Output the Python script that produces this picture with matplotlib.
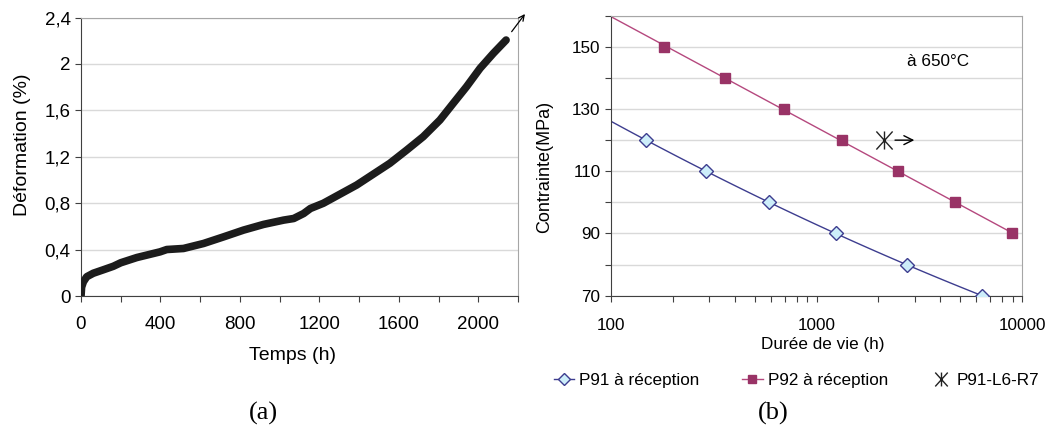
import matplotlib
matplotlib.use("Agg")
import matplotlib.pyplot as plt
import numpy as np
from matplotlib.path import Path
from matplotlib.ticker import MultipleLocator, FixedLocator, NullFormatter

plt.rcParams['font.family'] = ['Liberation Sans', 'DejaVu Sans']

# (a) courbe de fluage
temps_h = [0, 3, 12, 29, 62, 113, 163, 200, 281, 398, 432, 516, 617, 718, 818,
           919, 1020, 1071, 1121, 1155, 1220, 1388, 1555, 1640, 1723, 1807,
           1874, 1941, 2009, 2076, 2140]
deformation = [0.0, 0.08, 0.126, 0.17, 0.20, 0.23, 0.26, 0.29, 0.335, 0.384,
               0.404, 0.413, 0.456, 0.513, 0.571, 0.62, 0.657, 0.671, 0.714,
               0.757, 0.802, 0.959, 1.146, 1.260, 1.375, 1.518, 1.662, 1.805,
               1.963, 2.092, 2.206]
y_ticks_a = [0, 0.4, 0.8, 1.2, 1.6, 2.0, 2.4]
y_labels_a = ['0', '0,4', '0,8', '1,2', '1,6', '2', '2,4']
x_ticks_a = [0, 400, 800, 1200, 1600, 2000]

# (b) durée de vie vs contrainte
p91_vie = [148, 291, 589, 1238, 2742, 6398]
p91_contrainte = [120, 110, 100, 90, 80, 70]
p92_vie = [182, 359, 695, 1330, 2505, 4724, 8906]
p92_contrainte = [150, 140, 130, 120, 110, 100, 90]
l6r7_vie = [2138]
l6r7_contrainte = [120]

# marqueur étoile : un X plus un trait vertical
etoile = Path([(0, -1), (0, 1), (-0.9, -1), (0.9, 1), (-0.9, 1), (0.9, -1)],
              [Path.MOVETO, Path.LINETO] * 3)

fig = plt.figure(figsize=(10.45, 4.3), dpi=100)

# ---------- (a)
ax1 = fig.add_axes([0.0775, 0.3105, 0.4182, 0.6488])
ax1.plot(temps_h, deformation, color='#1c1c1c', lw=5.5, solid_capstyle='round',
         zorder=3)
ax1.set_xlim(0, 2200)
ax1.set_ylim(0, 2.4)
ax1.set_xticks(x_ticks_a)
ax1.xaxis.set_minor_locator(MultipleLocator(200))
ax1.set_yticks(y_ticks_a)
ax1.set_yticklabels(y_labels_a)
ax1.yaxis.grid(True, color='#d9d9d9', lw=1)
ax1.set_axisbelow(True)
ax1.tick_params(which='both', direction='out', length=4, width=0.8,
                labelsize=13.5, color='#404040')
ax1.tick_params(axis='x', pad=10)
ax1.spines['left'].set_color('#404040')
ax1.spines['bottom'].set_color('#404040')
for s in ['top', 'right']:
    ax1.spines[s].set_color('#a6a6a6')
ax1.set_xlabel('Temps (h)', fontsize=14)
ax1.xaxis.set_label_coords(0.484, -0.18)
ax1.set_ylabel('Déformation (%)', fontsize=14)
ax1.yaxis.set_label_coords(-0.115, 0.543)
ax1.annotate('', xy=(2235, 2.43), xytext=(2168, 2.278),
             arrowprops=dict(arrowstyle='->', color='black', lw=0.9,
                             shrinkA=0, shrinkB=0),
             annotation_clip=False)

# ---------- (b)
ax2 = fig.add_axes([0.5847, 0.3123, 0.3933, 0.6512])
ax2.set_xscale('log')

# tendances logarithmiques
c91 = np.polyfit(np.log10(p91_vie), p91_contrainte, 2)
xx91 = np.logspace(2, np.log10(max(p91_vie)), 100)
ax2.plot(xx91, np.polyval(c91, np.log10(xx91)), color='#3d3d8f', lw=1)
c92 = np.polyfit(np.log10(p92_vie), p92_contrainte, 1)
xx92 = np.logspace(2, np.log10(max(p92_vie)), 100)
ax2.plot(xx92, np.polyval(c92, np.log10(xx92)), color='#b5487e', lw=1)

ax2.plot(p91_vie, p91_contrainte, ls='none', marker='D', ms=7,
         mfc='#cdeefa', mec='#3d3d8f', mew=1, zorder=4)
ax2.plot(p92_vie, p92_contrainte, ls='none', marker='s', ms=7,
         mfc='#993366', mec='#993366', zorder=4)
ax2.plot(l6r7_vie, l6r7_contrainte, ls='none', marker=etoile, ms=13,
         mec='#222222', mew=1, zorder=4)
ax2.annotate('', xy=(2992, 120), xytext=(2410, 120),
             arrowprops=dict(arrowstyle='->', color='black', lw=1,
                             mutation_scale=16, shrinkA=0, shrinkB=0))

ax2.set_xlim(100, 10000)
ax2.set_ylim(70, 160)
ax2.set_yticks([70, 90, 110, 130, 150])
ax2.yaxis.set_minor_locator(FixedLocator([80, 100, 120, 140, 160]))
ax2.xaxis.set_major_locator(FixedLocator([100, 1000, 10000]))
ax2.set_xticklabels(['100', '1000', '10000'])
ax2.xaxis.set_minor_formatter(NullFormatter())
ax2.yaxis.grid(True, which='both', color='#d9d9d9', lw=1)
ax2.set_axisbelow(True)
ax2.tick_params(which='both', direction='out', length=4, width=0.8,
                labelsize=12.3, color='#404040')
ax2.tick_params(axis='x', which='major', pad=12)
ax2.spines['left'].set_color('#404040')
ax2.spines['bottom'].set_color('#404040')
for s in ['top', 'right']:
    ax2.spines[s].set_color('#a6a6a6')
ax2.set_xlabel('Durée de vie (h)', fontsize=12.3)
ax2.xaxis.set_label_coords(0.516, -0.149)
ax2.set_ylabel('Contrainte(MPa)', fontsize=13)
ax2.yaxis.set_label_coords(-0.14, 0.46)
ax2.text(0.72, 0.836, 'à 650°C', transform=ax2.transAxes, fontsize=12.3,
         ha='left', va='center')

h91, = ax2.plot([], [], color='#3d3d8f', lw=1, marker='D', ms=6,
                mfc='#cdeefa', mec='#3d3d8f')
h92, = ax2.plot([], [], color='#b5487e', lw=1, marker='s', ms=6,
                mfc='#993366', mec='#993366')
hst, = ax2.plot([], [], ls='none', marker=etoile, ms=10, mec='#222222')
fig.legend([h91, h92, hst], ['P91 à réception', 'P92 à réception', 'P91-L6-R7'],
           loc='center', bbox_to_anchor=(0.762, 0.116), ncol=3, frameon=False,
           fontsize=12.3, handlelength=1.2, handletextpad=0.3,
           columnspacing=2.5)

fig.text(263 / 1045, 1 - 413 / 430, '(a)', family='Liberation Serif',
         fontsize=19, ha='center', va='center')
fig.text(773 / 1045, 1 - 413 / 430, '(b)', family='Liberation Serif',
         fontsize=19, ha='center', va='center')

fig.savefig('out.png', dpi=100)
